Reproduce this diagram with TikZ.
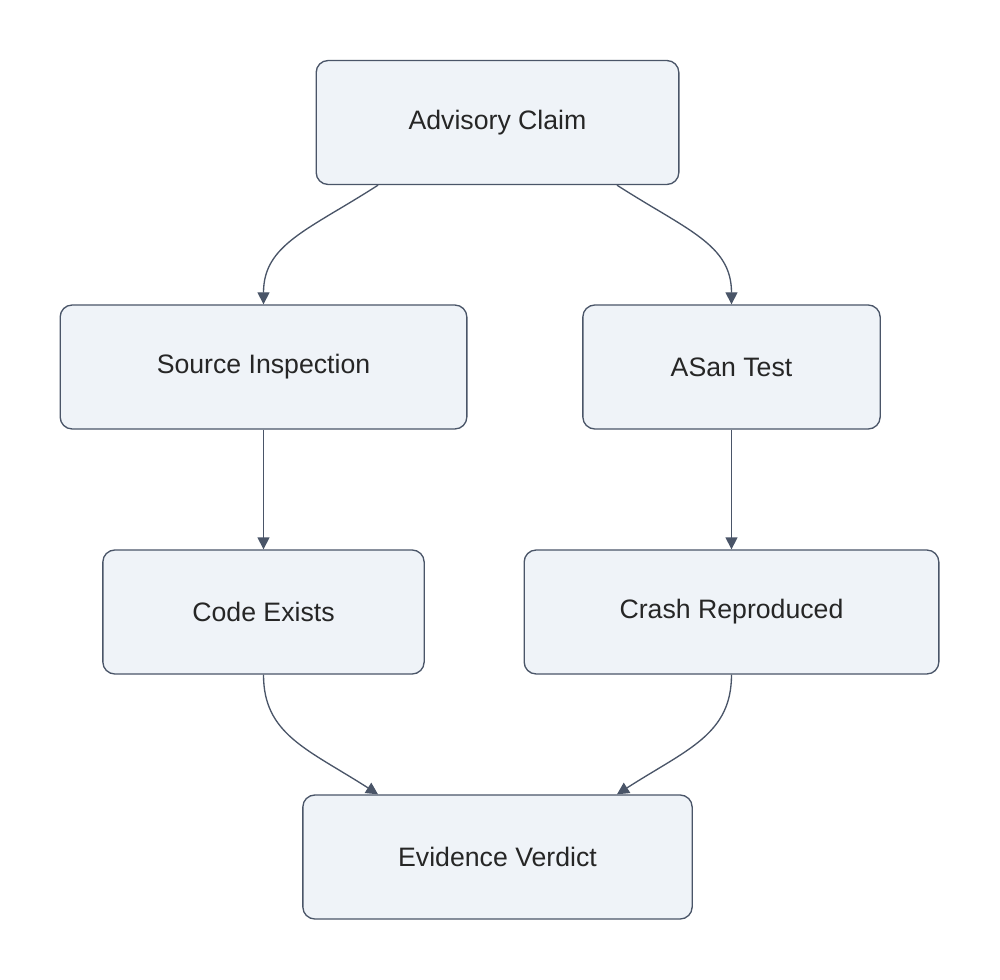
\documentclass[tikz,border=0pt]{standalone}
\usepackage{fontspec}
\setmainfont{Liberation Sans}
\usetikzlibrary{arrows.meta}
\definecolor{boxfill}{HTML}{EFF3F8}
\definecolor{boxline}{HTML}{4A5568}
\begin{document}
\begin{tikzpicture}[x=0.75pt,y=-0.75pt]
    \tikzstyle{every node}=[rectangle, rounded corners=9pt, fill=boxfill, draw=boxline, line width=1pt, minimum height=93pt, font=\fontsize{20}{24}\selectfont, text=black!85]
    \tikzstyle{edge}=[boxline, line width=1pt, -{Triangle[length=9pt,width=9pt]}]

    \useasboundingbox (0,0) rectangle (1000,980);

    \node[minimum width=272pt] (claim) at (497.5,122.5) {Advisory Claim};
    \node[minimum width=305pt] (source) at (263.5,367) {Source Inspection};
    \node[minimum width=223pt] (asan) at (731.5,367) {ASan Test};
    \node[minimum width=241pt] (code) at (263.5,612) {Code Exists};
    \node[minimum width=311pt] (crash) at (731.5,612) {Crash Reproduced};
    \node[minimum width=292pt] (verdict) at (497.5,857) {Evidence Verdict};

    \draw[edge] ([xshift=-89.6pt]claim.south) .. controls +(-70,45) and +(0,-60) .. (source.north);
    \draw[edge] ([xshift=89.6pt]claim.south) .. controls +(70,45) and +(0,-60) .. (asan.north);
    \draw[edge] (source) -- (code);
    \draw[edge] (asan) -- (crash);
    \draw[edge] (code.south) .. controls +(0,60) and +(-70,-45) .. ([xshift=-89.6pt]verdict.north);
    \draw[edge] (crash.south) .. controls +(0,60) and +(70,-45) .. ([xshift=89.6pt]verdict.north);
\end{tikzpicture}
\end{document}
